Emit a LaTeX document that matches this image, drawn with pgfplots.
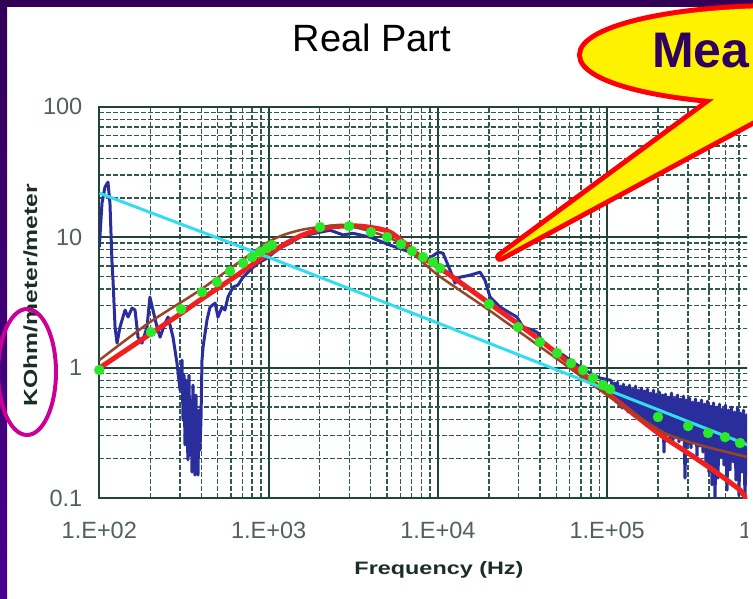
\documentclass[border=0pt]{standalone}
\usepackage{fontspec}
\setmainfont{Liberation Sans}
\usepackage{pgfplots}
\pgfplotsset{compat=1.18}
\definecolor{gridmaj}{HTML}{1F4538}
\definecolor{gridmin}{HTML}{2D5A4D}
\definecolor{ticktxt}{HTML}{52615A}
\definecolor{labtxt}{HTML}{1A2E26}
\definecolor{bluemeas}{HTML}{2A2E9C}
\definecolor{cyanl}{HTML}{33DDEE}
\definecolor{redl}{HTML}{F02020}
\definecolor{brownl}{HTML}{9A4426}
\definecolor{greend}{HTML}{2BE82B}
\definecolor{purpletop}{HTML}{330058}
\definecolor{purplebot}{HTML}{4A0090}
\definecolor{magen}{HTML}{CC0099}
\definecolor{bubtxt}{HTML}{2E0060}
\begin{document}
\begin{tikzpicture}[x=1pt,y=1pt]
\useasboundingbox (0,0) rectangle (753,598);
\clip (0,0) rectangle (753,598);
\fill[white] (0,0) rectangle (753,598);
\begin{scope}
\clip (0,0) rectangle (747,598);
\begin{axis}[
  at={(99.3pt,100pt)}, anchor=south west,
  scale only axis, width=677.2pt, height=391.3pt,
  xmode=log, ymode=log,
  xmin=100, xmax=1e6, ymin=0.1, ymax=100,
  xtick={100,1000,10000,100000,1000000},
  xticklabels={1.E+02,1.E+03,1.E+04,1.E+05,1.E+06},
  ytick={0.1,1,10,100},
  yticklabels={0.1,1,10,100},
  minor xtick={200,300,400,500,600,700,800,900,2000,3000,4000,5000,6000,7000,8000,9000,20000,30000,40000,50000,60000,70000,80000,90000,200000,300000,400000,500000,600000,700000,800000,900000},
  minor ytick={0.2,0.3,0.4,0.5,0.6,0.7,0.8,0.9,2,3,4,5,6,7,8,9,20,30,40,50,60,70,80,90},
  grid=both,
  major grid style={draw=gridmaj, line width=2pt},
  minor grid style={draw=gridmin, line width=1.4pt, dash pattern=on 5pt off 2pt},
  axis line style={draw=gridmaj, line width=2pt},
  major tick length=0pt, minor tick length=0pt,
  tick label style={font=\fontsize{23.5}{26}\selectfont, text=ticktxt},
  xticklabel style={yshift=-21pt},
  yticklabel style={xshift=-13.5pt},
]
% measured (blue)
\addplot[bluemeas, line width=3pt, mark=none, line join=round] table {
x y
100 8.38
103.7 18.2
108 24.2
112.5 26.4
115.6 18.2
118.9 6.32
120.5 4.68
123.9 2.04
127.3 1.54
132.5 2.04
141.9 2.76
147.9 2.44
156.1 2.86
162.6 2.76
169.4 1.71
178.7 1.54
191.3 2.04
199.1 3.47
207.5 2.76
219.3 2.04
228.6 1.71
244.5 2.19
254.7 2.44
272.5 1.71
287.7 1.08
299.8 0.672
308.1 1.14
312.3 0.396
316.5 0.876
320.8 0.255
325.2 0.802
329.6 0.332
334.1 0.196
338.7 0.876
343.3 0.214
348.0 0.564
352.8 0.158
357.6 0.734
362.5 0.233
367.5 0.150
372.5 0.616
377.6 0.170
382.8 0.150
388.0 0.472
393.3 0.233
398.7 0.396
404.2 1.14
410.2 1.44
432.5 2.31
450.8 2.91
483.1 3.12
502.3 2.44
530.9 2.91
552.1 2.76
575.4 3.47
616.6 4.14
659.2 4.29
706.3 4.93
776.2 5.58
865 6.32
979.5 6.90
1062 7.54
1167 8.24
1337 9.00
1531 10.0
1754 10.5
2014 10.9
2307 11.3
2754 10.4
3155 10.7
3972 10.0
5212 8.69
7129 7.54
8630 6.67
10023 7.67
10715 7.54
11803 5.58
12618 4.44
13521 4.93
15488 5.11
17742 5.39
18967 4.68
20323 3.47
23281 2.91
26669 2.62
29309 2.44
31842 2.04
36475 1.94
38994 1.84
41783 1.54
47863 1.36
54828 1.25
62806 1.10
79068 0.908
90573 0.831
103753 0.802
106020 0.788
108205 0.584
110435 0.761
112711 0.544
115034 0.774
117405 0.516
119825 0.721
122295 0.489
124815 0.747
127388 0.525
130013 0.709
132693 0.456
135428 0.734
138219 0.472
141068 0.684
143975 0.425
146942 0.721
149971 0.448
153062 0.672
156217 0.396
159436 0.696
162722 0.410
166076 0.661
169499 0.362
172992 0.684
176557 0.382
180196 0.638
183910 0.344
187700 0.672
191569 0.356
195517 0.626
199547 0.320
203660 0.649
207857 0.299
212141 0.616
216513 0.225
220975 0.626
225530 0.309
230178 0.594
234922 0.288
239764 0.638
244705 0.278
249749 0.584
254896 0.299
260149 0.616
265511 0.269
270983 0.574
276568 0.288
282268 0.605
288086 0.142
294023 0.564
300083 0.259
306268 0.584
312580 0.242
319022 0.544
325597 0.269
332308 0.574
339157 0.210
346147 0.535
353281 0.250
360562 0.564
367993 0.225
375577 0.525
383318 0.189
391218 0.554
399281 0.158
407510 0.507
415909 0.126
424481 0.535
433229 0.0965
442158 0.498
451271 0.142
460572 0.525
470064 0.203
479752 0.481
489640 0.179
499731 0.516
510031 0.115
520543 0.472
531271 0.164
542221 0.498
553396 0.189
564801 0.456
576442 0.137
588323 0.489
600448 0.105
612823 0.448
625453 0.158
638344 0.472
651500 0.0965
664927 0.433
678632 0.147
692618 0.456
};
% red model
\addplot[redl, line width=5pt, mark=none, smooth, tension=0.4] table {
x y
100 0.99
199.3 1.806
299.7 2.570
393.4 3.290
591.6 4.684
992 7.409
1533 10.18
2305 11.93
3467 12.14
5214 10.92
7842 7.152
10292 5.787
20043 3.121
40110 1.624
99750 0.638
199570 0.315
300100 0.2212
421700 0.1639
608800 0.1151
669800 0.0965
800000 0.08
};
% brown model
\addplot[brownl, line width=2.5pt, mark=none, smooth, tension=0.4] table {
x y
100 1.14
199.3 2.232
393.4 3.926
992 9.156
1533 11.31
2642 12.36
3972 11.1
5974 9.0
10023 5.11
20043 2.758
54830 1.08
99750 0.616
212900 0.320
352800 0.2547
669800 0.2062
1000000 0.18
};
% cyan
\addplot[cyanl, line width=3pt, mark=none] table {
x y
100 21.74
992 7.03
10023 2.193
108200 0.649
633900 0.264
1000000 0.21
};
% green dots
\addplot[only marks, mark=*, mark size=5pt, mark options={draw=greend, fill=greend}] table {
x y
100 0.957
201.8 1.871
304.1 2.805
404.6 3.793
495.5 4.519
591.6 5.483
706.3 6.324
798.0 7.031
889.2 7.674
979.5 8.241
1047 8.690
2014 11.94
2985 12.13
4027 10.91
5012 10.0
6053 8.83
7031 7.82
8166 7.03
9354 6.43
10304 5.78
20045 3.07
29717 2.04
40087 1.567
50582 1.291
61094 1.081
71945 0.957
82414 0.832
94406 0.735
103992 0.684
199526 0.418
300608 0.356
394457 0.315
496592 0.293
609537 0.264
};
\end{axis}
\end{scope}
% title and labels
\node[anchor=base, inner sep=0, font=\fontsize{38}{44}\selectfont, text=black] at (372,546) {Real Part};
\node[anchor=base, inner sep=0, font=\bfseries\fontsize{18}{20}\selectfont, text=labtxt] at (439,24) {\scalebox{1.3}[1]{Frequency (Hz)}};
\node[anchor=base, rotate=90, inner sep=0, font=\bfseries\fontsize{19}{22}\selectfont, text=labtxt] at (37,303) {\scalebox{1.3}[1]{KOhm/meter/meter}};
% purple frame
\fill[purpletop] (0,591) rectangle (753,598);
\shade[top color=purpletop, bottom color=purplebot] (0,0) rectangle (7,591);
% magenta ellipse
\draw[magen, line width=4pt] (27,226) ellipse [x radius=29, y radius=63];
% callout bubble
\draw[red, line width=10pt] (780,543) ellipse [x radius=198, y radius=47];
\draw[red, line width=10pt, line join=round] (720,503) -- (500,341) -- (800,503) -- cycle;
\fill[yellow] (780,543) ellipse [x radius=198, y radius=47];
\fill[yellow] (720,503) -- (500,341) -- (800,503) -- cycle;
\node[anchor=base west, inner sep=0, font=\bfseries\fontsize{50}{60}\selectfont, text=bubtxt] at (652,530) {Mea};
\end{tikzpicture}
\end{document}
